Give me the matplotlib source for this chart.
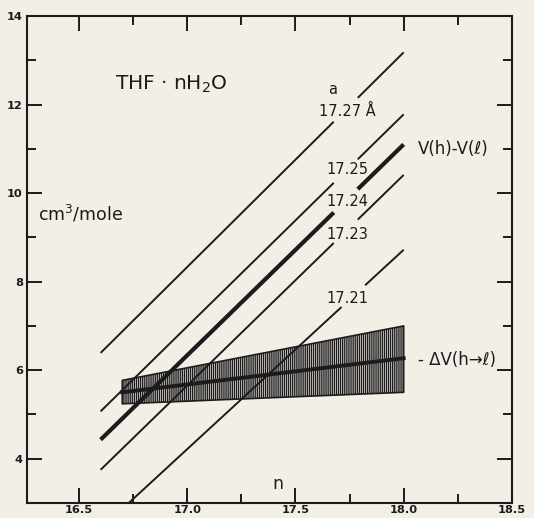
import matplotlib
matplotlib.use("Agg")
import matplotlib.pyplot as plt
import numpy as np

# lattice-parameter lines, a in Angstrom
a_labels = ["17.27", "17.25", "17.24", "17.23", "17.21"]
n_start = [16.6, 16.6, 16.6, 16.6, 16.73]
n_end = [18.0, 18.0, 18.0, 18.0, 18.0]
v_start = [6.39, 5.07, 4.43, 3.75, 3.0]
v_end = [13.18, 11.78, 11.10, 10.41, 8.72]
line_widths = [1.4, 1.4, 3.0, 1.4, 1.4]
# where each line is broken for its label (n from, n to)
gap_from = [17.677, 17.677, 17.677, 17.677, 17.713]
gap_to = [17.788, 17.788, 17.788, 17.788, 17.822]

# -dV(h->l) with its uncertainty band
band_n = [16.7, 18.0]
band_lo = [5.24, 5.50]
band_hi = [5.77, 7.00]
dv_mid = [5.50, 6.27]

bg = "#f3eee6"
ink = "#1c1c1c"

plt.rcParams["mathtext.default"] = "regular"
plt.rcParams["hatch.linewidth"] = 1.0
plt.rcParams["hatch.color"] = ink

fig = plt.figure(figsize=(5.34, 5.18), dpi=100, facecolor=bg)
ax = fig.add_axes([0.0506, 0.029, 0.908, 0.940])
ax.set_facecolor(bg)

for i in range(len(a_labels)):
    ends_n = [n_start[i], n_end[i]]
    ends_v = [v_start[i], v_end[i]]
    g0 = np.interp(gap_from[i], ends_n, ends_v)
    g1 = np.interp(gap_to[i], ends_n, ends_v)
    ax.plot([n_start[i], gap_from[i]], [v_start[i], g0], color=ink,
            lw=line_widths[i], solid_capstyle="butt", zorder=2)
    ax.plot([gap_to[i], n_end[i]], [g1, v_end[i]], color=ink,
            lw=line_widths[i], solid_capstyle="butt", zorder=2)

ax.fill_between(band_n, band_lo, band_hi, facecolor="none", edgecolor=ink,
                hatch="|" * 8, lw=1.2, zorder=1)
ax.plot(band_n, dv_mid, color=ink, lw=2.8, zorder=3)

lab_y = [11.84, 10.53, 9.81, 9.07, 7.62]
for i, lab in enumerate(a_labels):
    txt = lab + " Å" if i == 0 else lab
    ax.text(17.74, lab_y[i], txt, fontsize=10.5, ha="center", va="center",
            zorder=4, color=ink)
ax.text(17.673, 12.34, "a", fontsize=10.5, ha="center", va="center", color=ink)

ax.text(16.665, 12.45, "THF · nH$_2$O", fontsize=14.5, ha="left", va="center", color=ink)
ax.text(16.31, 9.54, "cm$^3$/mole", fontsize=12.5, ha="left", va="center", color=ink)
ax.text(18.065, 11.0, "V(h)-V(ℓ)", fontsize=12, ha="left", va="center", color=ink)
ax.text(18.065, 6.24, "- ΔV(h→ℓ)", fontsize=12, ha="left", va="center", color=ink)
ax.text(17.42, 3.44, "n", fontsize=12.5, ha="center", va="center", color=ink)

ax.set_xlim(16.26, 18.5)
ax.set_ylim(3, 14)
ax.set_xticks([16.5, 17.0, 17.5, 18.0, 18.5])
ax.set_xticklabels(["16.5", "17.0", "17.5", "18.0", "18.5"])
ax.set_xticks([16.75, 17.25, 17.75, 18.25], minor=True)
ax.set_yticks([4, 6, 8, 10, 12, 14])
ax.set_yticks([5, 7, 9, 11, 13], minor=True)

ax.tick_params(which="both", direction="in", top=True, right=True, colors=ink,
               width=1.4)
ax.tick_params(which="major", length=11, labelsize=8.2, pad=3)
ax.tick_params(axis="x", which="major", pad=1.5)
ax.tick_params(which="minor", length=6.5)
for lab in ax.get_xticklabels() + ax.get_yticklabels():
    lab.set_fontweight("bold")
for s in ax.spines.values():
    s.set_linewidth(1.5)
    s.set_color(ink)

fig.savefig("out.png", dpi=100, facecolor=bg)
